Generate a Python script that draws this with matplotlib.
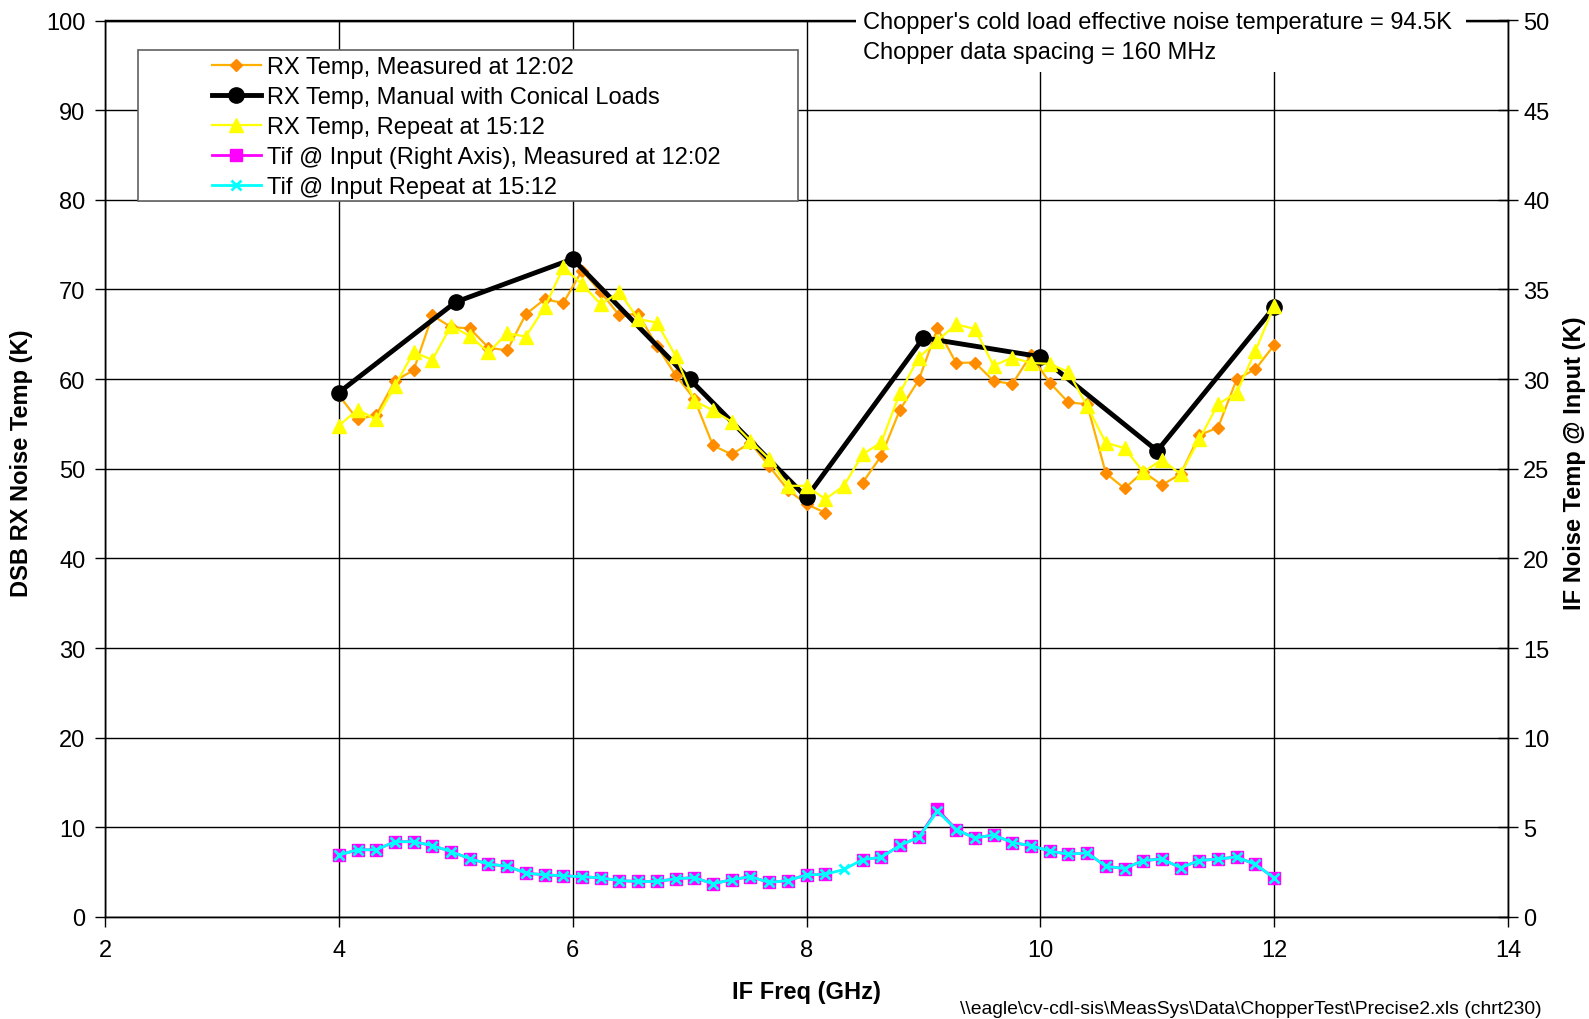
import numpy as np
import matplotlib
matplotlib.use("Agg")
import matplotlib.pyplot as plt
from matplotlib.patches import Rectangle

plt.rcParams['font.family'] = ['Liberation Sans', 'DejaVu Sans']

# ---- data ----
freq = np.round(np.arange(51) * 0.16 + 4.0, 2)

rx_measured = [58.2, 55.5, 56.0, 59.8, 61.0, 67.1, 65.8, 65.65, 63.5, 63.2,
               67.25, 68.9, 68.5, 72.1, 69.7, 67.1, 67.3, 63.7, 60.45, 57.8,
               52.6, 51.6, 52.9, 50.3, 47.65, 46.05, 45.1, np.nan, 48.45, 51.45,
               56.6, 59.9, 65.65, 61.8, 61.85, 59.8, 59.45, 62.7, 59.6, 57.4,
               57.2, 49.5, 47.8, 49.65, 48.2, 49.4, 53.75, 54.6, 60.0, 61.1,
               63.8]

rx_repeat = [54.8, 56.6, 55.5, 59.25, 63.0, 62.15, 65.95, 64.8, 63.0, 65.1,
             64.75, 68.0, 72.45, 70.6, 68.35, 69.7, 66.7, 66.3, 62.6, 57.6,
             56.5, 55.25, 53.1, 51.1, 48.1, 48.1, 46.6, 48.1, 51.6, 52.95,
             58.5, 62.4, 64.3, 66.1, 65.6, 61.5, 62.4, 61.8, 61.7, 60.8,
             57.0, 52.9, 52.3, 49.65, 51.0, 49.4, 53.3, 57.2, 58.5, 63.15,
             68.2]

manual_freq = [4, 5, 6, 7, 8, 9, 10, 11, 12]
rx_manual = [58.5, 68.6, 73.4, 60.0, 46.8, 64.6, 62.5, 52.0, 68.0]

tif_measured = [3.45, 3.75, 3.75, 4.2, 4.2, 3.98, 3.65, 3.25, 2.95, 2.83,
                2.45, 2.35, 2.3, 2.25, 2.18, 2.03, 1.98, 1.98, 2.13, 2.2,
                1.85, 2.08, 2.25, 1.93, 2.03, 2.35, 2.38, np.nan, 3.2, 3.33,
                4.0, 4.45, 6.0, 4.88, 4.4, 4.58, 4.15, 3.98, 3.68, 3.5,
                3.58, 2.83, 2.7, 3.15, 3.23, 2.75, 3.15, 3.23, 3.35, 2.93,
                2.18]

tif_repeat = [3.45, 3.75, 3.75, 4.2, 4.2, 3.98, 3.65, 3.25, 2.95, 2.83,
              2.45, 2.35, 2.3, 2.25, 2.18, 2.03, 1.98, 1.98, 2.13, 2.2,
              1.85, 2.08, 2.25, 1.93, 2.03, 2.35, 2.38, 2.65, 3.2, 3.33,
              4.0, 4.45, 5.9, 4.88, 4.4, 4.58, 4.15, 3.98, 3.68, 3.5,
              3.58, 2.83, 2.7, 3.15, 3.23, 2.75, 3.15, 3.23, 3.35, 2.93,
              2.18]

labels = ["RX Temp, Measured at 12:02",
          "RX Temp, Manual with Conical Loads",
          "RX Temp, Repeat at 15:12",
          "Tif @ Input (Right Axis), Measured at 12:02",
          "Tif @ Input Repeat at 15:12"]

x_ticks = [2, 4, 6, 8, 10, 12, 14]
left_ticks = list(range(0, 101, 10))
right_ticks = list(range(0, 51, 5))

# ---- figure ----
W, H = 1589, 1020
fig = plt.figure(figsize=(W / 100, H / 100), dpi=100)
ax = fig.add_axes([105/W, 1 - 918/H, (1508 - 105)/W, (918 - 21.5)/H])
ax.set_xlim(2, 14)
ax.set_ylim(0, 100)
ax.set_xticks(x_ticks)
ax.set_yticks(left_ticks)
ax.grid(True, color='black', linewidth=1.0)
ax.set_axisbelow(True)

FS = 17
l1, = ax.plot(freq, rx_measured, color='#FFB000', lw=1.6, marker='D', ms=6.5,
              mfc='#FF8C00', mec='#FF8C00', zorder=3)
l2, = ax.plot(manual_freq, rx_manual, color='black', lw=3.5, marker='o', ms=11,
              zorder=4)
l3, = ax.plot(freq, rx_repeat, color='#FFFF00', lw=1.6, marker='^', ms=9.5,
              mfc='#FFFF00', mec='#FFFF00', zorder=5)

ax2 = ax.twinx()
ax2.set_ylim(0, 50)
ax2.set_yticks(right_ticks)
l4, = ax2.plot(freq, tif_measured, color='#FF00FF', lw=2, marker='s', ms=8.5,
               mfc='#FF00FF', mec='#FF00FF', zorder=3)
l5, = ax2.plot(freq, tif_repeat, color='#00FFFF', lw=2, marker='x', ms=7,
               mew=2, zorder=4)

for a in (ax, ax2):
    for s in a.spines.values():
        s.set_color('black')
        s.set_linewidth(1.0)

ax.tick_params(axis='both', direction='out', length=7, width=1, labelsize=FS)
ax.tick_params(axis='y', pad=7)
ax.tick_params(axis='x', pad=9)
ax2.tick_params(axis='y', direction='inout', length=14, width=1, labelsize=FS, pad=4)

# axis titles
fig.text(806/W, 1 - 993/H, "IF Freq (GHz)", fontsize=FS, fontweight='bold',
         ha='center', va='center')
fig.text(22/W, 1 - 463/H, "DSB RX Noise Temp (K)", fontsize=FS, fontweight='bold',
         ha='center', va='center', rotation=90)
fig.text(1574/W, 1 - 463/H, "IF Noise Temp @ Input (K)", fontsize=FS, fontweight='bold',
         ha='center', va='center', rotation=90)

# legend frame + legend
ax2.add_patch(Rectangle((138/W, 1 - 202/H), (798 - 138)/W, (202 - 51)/H,
                        transform=fig.transFigure, facecolor='white',
                        edgecolor='#606060', lw=1.2, zorder=10, clip_on=False))
leg = ax2.legend([l1, l2, l3, l4, l5], labels, loc='upper left',
                 bbox_to_anchor=(212/W, 1 - 57/H), bbox_transform=fig.transFigure,
                 frameon=False, fontsize=FS, borderpad=0, borderaxespad=0,
                 handlelength=2.06, handletextpad=0.25, labelspacing=0.34)
leg.set_zorder(20)

# annotation box
ax2.add_patch(Rectangle((856/W, 1 - 73/H), (1466 - 856)/W, (73 - 8)/H,
                        transform=fig.transFigure, facecolor='white',
                        edgecolor='none', zorder=10, clip_on=False))
ax2.text(863/W, 1 - 23.5/H, "Chopper's cold load effective noise temperature = 94.5K",
         transform=fig.transFigure, fontsize=FS, va='center', ha='left', zorder=21)
ax2.text(863/W, 1 - 52.5/H, "Chopper data spacing = 160 MHz",
         transform=fig.transFigure, fontsize=FS, va='center', ha='left', zorder=21)

fig.text(1542/W, 1 - 1010/H,
         r"\\eagle\cv-cdl-sis\MeasSys\Data\ChopperTest\Precise2.xls (chrt230)",
         fontsize=13.9, ha='right', va='center')

fig.savefig("out.png", dpi=100, facecolor='white')
